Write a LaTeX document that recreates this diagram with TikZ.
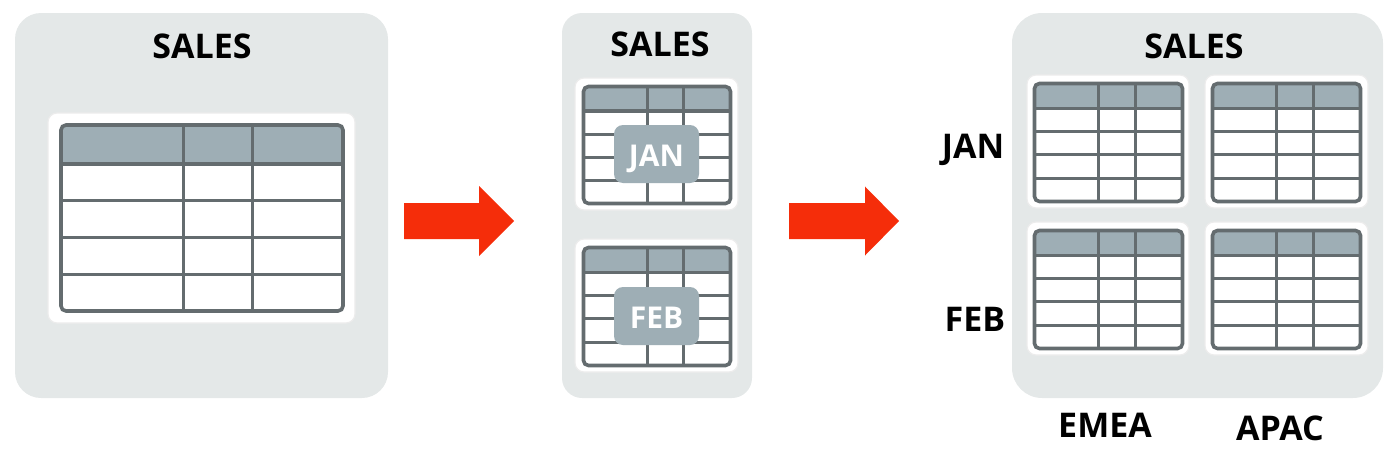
\documentclass[tikz,border=0pt]{standalone}
\usepackage{fontspec}
\setmainfont{Open Sans}
\usetikzlibrary{calc}
\definecolor{panelgray}{HTML}{E4E8E8}
\definecolor{tline}{HTML}{646C6F}
\definecolor{headfill}{HTML}{9EAEB5}
\definecolor{arrowred}{HTML}{F52D0A}
\tikzset{
  panel/.style={fill=panelgray, draw=none, rounded corners=#1},
  halo/.style={fill=white, draw=white!85!gray, line width=1.2, rounded corners=9},
  datatable/.style={draw=tline, line width=3.6, fill=white, rounded corners=5, inner sep=0, outer sep=0,
    path picture={
      \path let \p1=(path picture bounding box.north west), \p2=(path picture bounding box.south east),
        \n1={\y1-0.21*(\y1-\y2)}, \n2={(\y1-\y2)*0.79/4} in
        [sharp corners]
        [fill=headfill] (\x1,\y1) rectangle (\x2,\n1)
        [draw=tline, line width=3.2]
        (\x1,\n1) -- (\x2,\n1)
        (\x1,\n1-\n2) -- (\x2,\n1-\n2)
        (\x1,\n1-2*\n2) -- (\x2,\n1-2*\n2)
        (\x1,\n1-3*\n2) -- (\x2,\n1-3*\n2)
        ({\x1+0.434*(\x2-\x1)},\y1) -- ({\x1+0.434*(\x2-\x1)},\y2)
        ({\x1+0.68*(\x2-\x1)},\y1) -- ({\x1+0.68*(\x2-\x1)},\y2);
    }},
  title/.style={font=\fontsize{34}{36}\selectfont\bfseries, text=black, anchor=base, inner sep=0},
  badge/.style={fill=headfill, rounded corners=9, minimum width=85, minimum height=58, inner sep=0},
  badgetext/.style={font=\fontsize{30}{32}\selectfont\bfseries, text=white, anchor=base, inner sep=0},
  bigarrow/.style={fill=arrowred, draw=none}
}
\begin{document}
\begin{tikzpicture}[x=1pt,y=-1pt]
\useasboundingbox (0,0) rectangle (1400,455);
% panel 1
\path[panel=26] (15,13) rectangle (388,398);
\node[title] (s1) at (202,58) {SALES};
\path[halo] (48,113) rectangle (355,323);
\node[datatable, minimum width=282, minimum height=186] (t1) at (202,218) {};
% arrow 1
\coordinate (a1) at (404,221);
\path[bigarrow] (a1) ++(0,-18) -- ++(75,0) -- ++(0,-17) -- ++(35,35) -- ++(-35,35) -- ++(0,-17) -- ++(-75,0) -- cycle;
% panel 2
\path[panel=20] (562,13) rectangle (752,398);
\node[title] (s2) at (660,56) {SALES};
\path[halo] (575,78) rectangle (738,210);
\node[datatable, minimum width=147, minimum height=117] (t2) at (657,145) {};
\node[badge] (b1) at (656.5,154) {};
\node[badgetext] (j1) at (656.5,166) {JAN};
\path[halo] (575,239) rectangle (738,372);
\node[datatable, minimum width=147, minimum height=118] (t3) at (657,306.5) {};
\node[badge] (b2) at (656.5,316) {};
\node[badgetext] (f1) at (656.5,328) {FEB};
% arrow 2
\coordinate (a2) at (789,221);
\path[bigarrow] (a2) ++(0,-18) -- ++(76,0) -- ++(0,-16.5) -- ++(34,34.5) -- ++(-34,34.5) -- ++(0,-16.5) -- ++(-76,0) -- cycle;
% panel 3
\path[panel=30] (1012,13) rectangle (1383,398);
\node[title] (s3) at (1194,58) {SALES};
\path[halo] (1027,75) rectangle (1189,208);
\node[datatable, minimum width=148, minimum height=118] (t4) at (1108.5,142.5) {};
\path[halo] (1205,75) rectangle (1368,208);
\node[datatable, minimum width=148, minimum height=118] (t5) at (1286.5,142.5) {};
\path[halo] (1027,222) rectangle (1189,355);
\node[datatable, minimum width=148, minimum height=118] (t6) at (1108.5,289.5) {};
\path[halo] (1205,222) rectangle (1368,355);
\node[datatable, minimum width=148, minimum height=118] (t7) at (1286.5,289.5) {};
% side labels
\node[title] (jan) at (973,158) {JAN};
\node[title] (feb) at (975,331) {FEB};
\node[title] (emea) at (1105,437) {EMEA};
\node[title] (apac) at (1280,440) {APAC};
\end{tikzpicture}
\end{document}
